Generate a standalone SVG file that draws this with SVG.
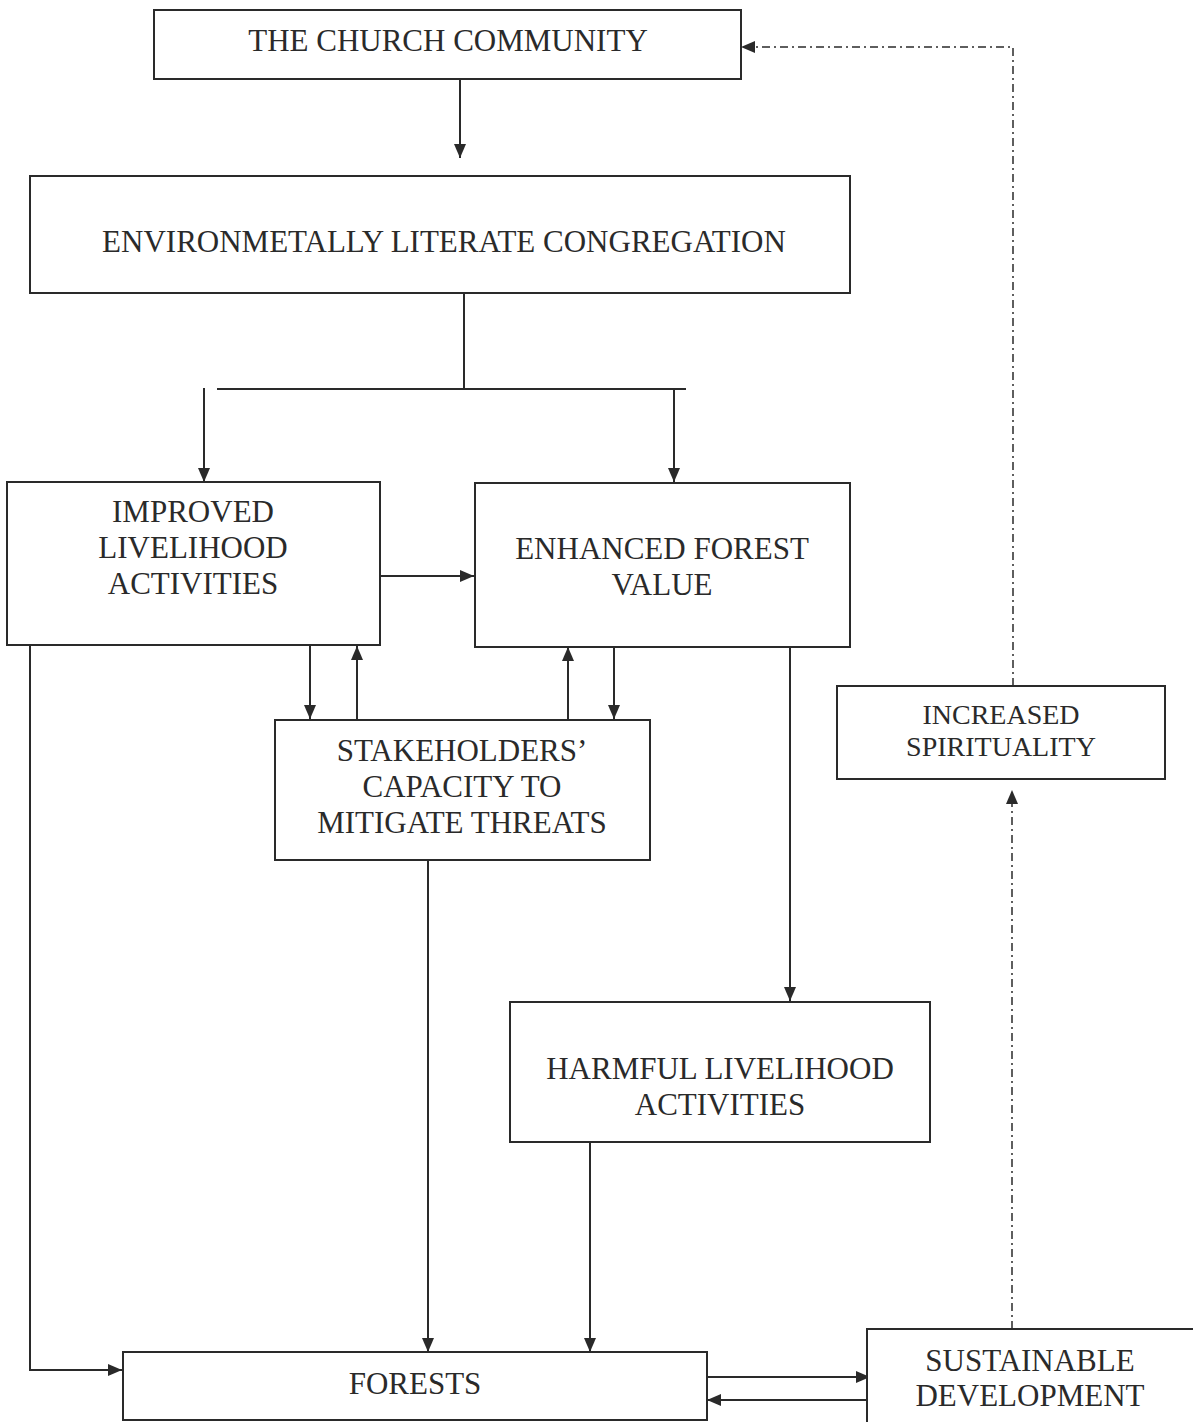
<svg xmlns="http://www.w3.org/2000/svg" width="1193" height="1422" viewBox="0 0 1193 1422">
<defs>
<marker id="ah" viewBox="0 0 14 12" refX="14" refY="6" markerWidth="14" markerHeight="12" markerUnits="userSpaceOnUse" orient="auto">
<path d="M0,0 L14,6 L0,12 Z" fill="#2a2a2a"/>
</marker>
<style>
.box{fill:#fff;stroke:#2a2a2a;stroke-width:2}
.t{font-family:"Liberation Serif","Times New Roman",serif;font-size:31px;fill:#2a2a2a;text-anchor:middle}
.s{font-size:28px}
.c{fill:none;stroke:#2a2a2a;stroke-width:2}
.a{marker-end:url(#ah)}
.d{fill:none;stroke:#2a2a2a;stroke-width:1.5;stroke-dasharray:8 4 2 4}
</style>
</defs>
<rect width="1193" height="1422" fill="#fff"/>
<g id="connectors">
<line class="c a" x1="460" y1="79" x2="460" y2="158"/>
<line class="c" x1="464" y1="293" x2="464" y2="389"/>
<line class="c" x1="217" y1="389" x2="686" y2="389"/>
<line class="c a" x1="204" y1="388" x2="204" y2="482"/>
<line class="c a" x1="674" y1="389" x2="674" y2="482"/>
<line class="c a" x1="380" y1="576" x2="474" y2="576"/>
<line class="c a" x1="310" y1="645" x2="310" y2="719"/>
<line class="c a" x1="357" y1="720" x2="357" y2="646"/>
<line class="c a" x1="568" y1="720" x2="568" y2="647"/>
<line class="c a" x1="614" y1="647" x2="614" y2="719"/>
<line class="c a" x1="790" y1="647" x2="790" y2="1001"/>
<line class="c a" x1="428" y1="860" x2="428" y2="1352"/>
<line class="c a" x1="590" y1="1142" x2="590" y2="1352"/>
<polyline class="c a" points="30,645 30,1370 122,1370"/>
<line class="c a" x1="707" y1="1377" x2="870" y2="1377"/>
<line class="c a" x1="870" y1="1400" x2="707" y2="1400"/>
<line class="d a" x1="1012" y1="1329" x2="1012" y2="790"/>
<polyline class="d a" points="1013,686 1013,47 741,47"/>
</g>
<g id="church"><rect class="box" x="154" y="10" width="587" height="69"/><text class="t" x="448" y="51">THE CHURCH COMMUNITY</text></g>
<g id="congregation"><rect class="box" x="30" y="176" width="820" height="117"/><text class="t" x="444" y="252">ENVIRONMETALLY LITERATE CONGREGATION</text></g>
<g id="improved"><rect class="box" x="7" y="482" width="373" height="163"/><text class="t" x="193" y="522">IMPROVED</text><text class="t" x="193" y="558">LIVELIHOOD</text><text class="t" x="193" y="594">ACTIVITIES</text></g>
<g id="enhanced"><rect class="box" x="475" y="483" width="375" height="164"/><text class="t" x="662" y="559">ENHANCED FOREST</text><text class="t" x="662" y="595">VALUE</text></g>
<g id="stakeholders"><rect class="box" x="275" y="720" width="375" height="140"/><text class="t" x="462" y="761">STAKEHOLDERS’</text><text class="t" x="462" y="797">CAPACITY TO</text><text class="t" x="462" y="833">MITIGATE THREATS</text></g>
<g id="harmful"><rect class="box" x="510" y="1002" width="420" height="140"/><text class="t" x="720" y="1079">HARMFUL LIVELIHOOD</text><text class="t" x="720" y="1115">ACTIVITIES</text></g>
<g id="spirituality"><rect class="box" x="837" y="686" width="328" height="93"/><text class="t s" x="1001" y="724">INCREASED</text><text class="t s" x="1001" y="756">SPIRITUALITY</text></g>
<g id="forests"><rect class="box" x="123" y="1352" width="584" height="68"/><text class="t" x="415" y="1394">FORESTS</text></g>
<g id="sustainable"><rect class="box" x="867" y="1329" width="330" height="100"/><text class="t" x="1030" y="1371">SUSTAINABLE</text><text class="t" x="1030" y="1406">DEVELOPMENT</text></g>
</svg>
